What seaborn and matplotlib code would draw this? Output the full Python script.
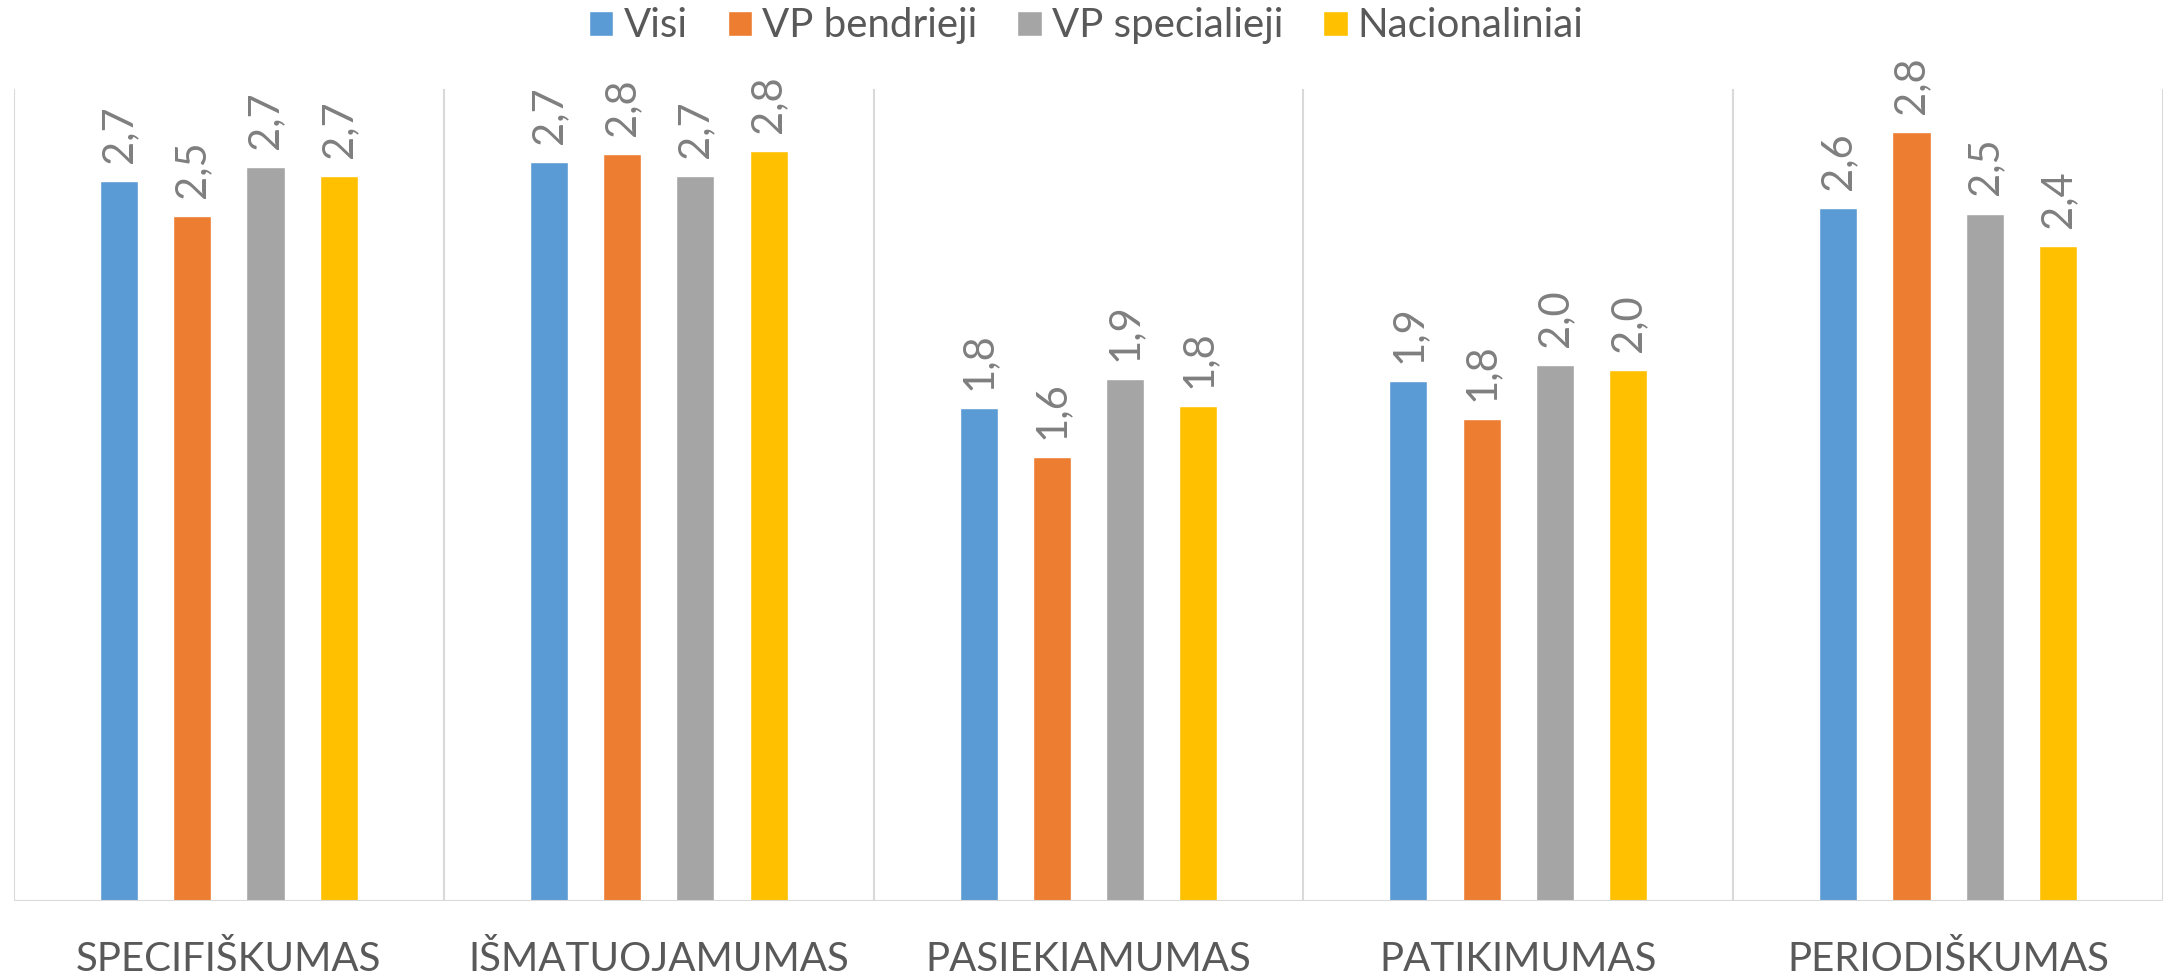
import matplotlib
matplotlib.use('Agg')
import matplotlib.pyplot as plt
import seaborn as sns
import pandas as pd
import numpy as np

# data
kriterijai = ['SPECIFIŠKUMAS', 'IŠMATUOJAMUMAS', 'PASIEKIAMUMAS', 'PATIKIMUMAS', 'PERIODIŠKUMAS']
grupes = ['Visi', 'VP bendrieji', 'VP specialieji', 'Nacionaliniai']
visi = [2.66, 2.73, 1.82, 1.92, 2.56]
vp_bendrieji = [2.53, 2.76, 1.64, 1.78, 2.84]
vp_specialieji = [2.71, 2.68, 1.93, 1.98, 2.54]
nacionaliniai = [2.68, 2.77, 1.83, 1.96, 2.42]
spalvos = ['#5B9BD5', '#ED7D31', '#A5A5A5', '#FFC000']

sns.set_theme(style='white')
plt.rcParams['font.family'] = ['Lato', 'DejaVu Sans']

rows = []
for grupe, vals in zip(grupes, [visi, vp_bendrieji, vp_specialieji, nacionaliniai]):
    for k, v in zip(kriterijai, vals):
        rows.append({'kriterijus': k, 'grupe': grupe, 'reiksme': v})
df = pd.DataFrame(rows)

W, H = 2165, 977
fig = plt.figure(figsize=(W / 100, H / 100), dpi=100)
ax = fig.add_axes([14 / W, 1 - 901 / H, (2163 - 14) / W, (901 - 89) / H])

sns.barplot(data=df, x='kriterijus', y='reiksme', hue='grupe', order=kriterijai,
            hue_order=grupes, palette=spalvos, width=0.682, gap=0.48,
            saturation=1, ax=ax)

for cont in ax.containers:
    labels = [f'{b.get_height():.1f}'.replace('.', ',') for b in cont]
    ax.bar_label(cont, labels=labels, rotation=90, padding=13, fontsize=30,
                 color='#7F7F7F', clip_on=False)

ax.set_ylim(0, 3)
ax.set_xlim(-0.5, len(kriterijai) - 0.5)
ax.set_yticks([])
ax.set_xlabel('')
ax.set_ylabel('')
for s in ax.spines.values():
    s.set_visible(False)
for x in np.arange(-0.5, len(kriterijai), 1.0):
    ax.axvline(x, color='#D9D9D9', lw=1.5, zorder=0)
ax.axhline(0, color='#D9D9D9', lw=1.5, zorder=3)
ax.tick_params(axis='x', length=0, pad=29, labelsize=29, labelcolor='#595959')

sns.move_legend(ax, 'center', bbox_to_anchor=(0.499, 1.0776), ncol=4, frameon=False,
                title=None, fontsize=29, handlelength=0.6, handleheight=0.6,
                handletextpad=0.25, columnspacing=1.0, labelcolor='#595959')

fig.savefig('out.png', dpi=100)
